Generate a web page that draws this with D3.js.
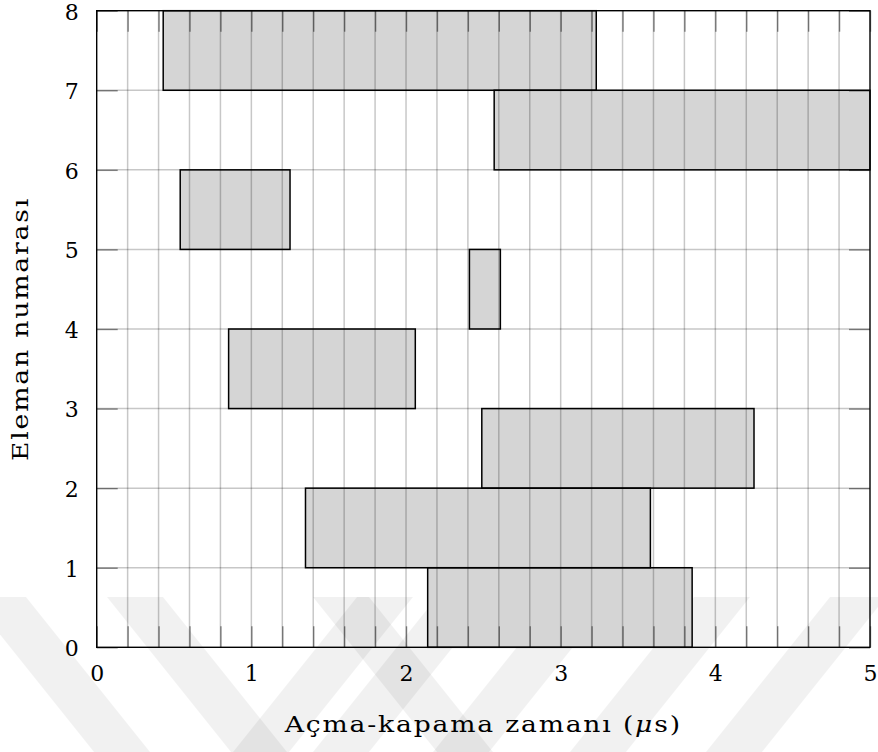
<!DOCTYPE html>
<html>
<head>
<meta charset="utf-8">
<script src="https://cdn.jsdelivr.net/npm/d3@7"></script>
<style>
  html, body { margin: 0; padding: 0; background: #fff; }
  svg { display: block; }
  text { font-family: "DejaVu Serif", "Liberation Serif", serif; fill: #000; }
</style>
</head>
<body>
<svg id="chart" width="878" height="752"></svg>
<script>
// Element numbers (each element occupies the band [n, n+1])
const elements = [0, 1, 2, 3, 4, 5, 6, 7];
// Switching interval of each element, in microseconds
const startTimes = [2.14, 1.35, 2.49, 0.853, 2.41, 0.54, 2.57, 0.43];
const endTimes   = [3.85, 3.58, 4.25, 2.06, 2.61, 1.25, 5.0, 3.23];
// Axis ticks
const xTickLabels = [0, 1, 2, 3, 4, 5];
const yTickLabels = [0, 1, 2, 3, 4, 5, 6, 7, 8];

const bars = elements.map((e, i) => ({ e, start: startTimes[i], end: endTimes[i] }));

const svg = d3.select("#chart");
const plotLeft = 96.7, plotRight = 870, plotTop = 10.7, plotBottom = 647.3;
const x = d3.scaleLinear().domain([0, 5]).range([plotLeft, plotRight]);
const y = d3.scaleLinear().domain([0, 8]).range([plotBottom, plotTop]);

const minorX = x.ticks(25);          // 0, 0.2, ..., 5
const tickLen = 21;

// Faint page watermark: diagonal bands along the bottom of the page
const wm = svg.append("g").attr("fill", "#000").attr("fill-opacity", 0.055);
const bandTop = 597, bandBottom = 752, slope = 0.8, bandW = 56;
[[107, 1], [313, 1], [-30, 1]].concat([[357, -1], [437, -1], [557, -1], [694, -1], [830, -1]])
  .forEach(([x0, dir]) => {
    const dy = bandBottom - bandTop;
    wm.append("polygon").attr("points", [
      [x0, bandTop], [x0 + bandW, bandTop],
      [x0 + bandW + dir * slope * dy, bandBottom], [x0 + dir * slope * dy, bandBottom]
    ].map(p => p.join(",")).join(" "));
  });

// Bar fills
svg.append("g").selectAll("rect").data(bars).join("rect")
  .attr("x", d => x(d.start))
  .attr("y", d => y(d.e + 1))
  .attr("width", d => x(d.end) - x(d.start))
  .attr("height", d => y(d.e) - y(d.e + 1))
  .attr("fill", "#d3d3d3")
  .attr("fill-opacity", 0.95);

// Grid
const grid = svg.append("g").attr("stroke", "#000").attr("stroke-opacity", 0.22).attr("stroke-width", 1.5);
grid.selectAll("line.v").data(minorX.filter(v => v > 0 && v < 5)).join("line")
  .attr("class", "v")
  .attr("x1", d => x(d)).attr("x2", d => x(d))
  .attr("y1", plotTop).attr("y2", plotBottom);
grid.selectAll("line.h").data(yTickLabels.filter(v => v > 0 && v < 8)).join("line")
  .attr("class", "h")
  .attr("x1", plotLeft).attr("x2", plotRight)
  .attr("y1", d => y(d)).attr("y2", d => y(d));

// Bar outlines
svg.append("g").selectAll("rect").data(bars).join("rect")
  .attr("x", d => x(d.start))
  .attr("y", d => y(d.e + 1))
  .attr("width", d => x(d.end) - x(d.start))
  .attr("height", d => y(d.e) - y(d.e + 1))
  .attr("fill", "none")
  .attr("stroke", "#000")
  .attr("stroke-width", 1.5);

// Axes (ticks point inward)
function styleAxis(g, labels) {
  g.select(".domain").remove();
  g.selectAll(".tick line").attr("stroke", "#000").attr("stroke-opacity", 0.45).attr("stroke-width", 1.4);
  g.selectAll(".tick text").style("font-size", "22px").style("font-family", "DejaVu Serif");
  if (!labels) g.selectAll(".tick text").remove();
}

svg.append("g").attr("transform", `translate(0,${plotBottom})`)
  .call(d3.axisBottom(x).tickValues(minorX).tickSize(-tickLen).tickPadding(18)
    .tickFormat(d => xTickLabels.includes(Math.round(d * 1000) / 1000) ? d3.format("d")(d) : ""))
  .call(g => styleAxis(g, true));

svg.append("g").attr("transform", `translate(0,${plotTop})`)
  .call(d3.axisTop(x).tickValues(minorX).tickSize(-tickLen).tickFormat(""))
  .call(g => styleAxis(g, false));

svg.append("g").attr("transform", `translate(${plotLeft},0)`)
  .call(d3.axisLeft(y).tickValues(yTickLabels).tickSize(-tickLen).tickPadding(18).tickFormat(d3.format("d")))
  .call(g => { styleAxis(g, true); g.selectAll(".tick text").attr("dy", "0.38em"); });

svg.append("g").attr("transform", `translate(${plotRight},0)`)
  .call(d3.axisRight(y).tickValues(yTickLabels).tickSize(-tickLen).tickFormat(""))
  .call(g => styleAxis(g, false));

// Frame
svg.append("rect")
  .attr("x", plotLeft).attr("y", plotTop)
  .attr("width", plotRight - plotLeft).attr("height", plotBottom - plotTop)
  .attr("fill", "none").attr("stroke", "#000").attr("stroke-width", 1.4);

// Axis titles
const xTitle = svg.append("text")
  .attr("x", (plotLeft + plotRight) / 2).attr("y", 731.5)
  .attr("text-anchor", "middle")
  .attr("textLength", 397).attr("lengthAdjust", "spacingAndGlyphs")
  .style("font-size", "22px")
  .style("letter-spacing", "1.5px");
xTitle.append("tspan").text("Açma-kapama zamanı (");
xTitle.append("tspan").style("font-style", "italic").text("μ");
xTitle.append("tspan").text("s)");

svg.append("text")
  .attr("transform", `translate(28,${(plotTop + plotBottom) / 2}) rotate(-90)`)
  .attr("text-anchor", "middle")
  .attr("textLength", 264).attr("lengthAdjust", "spacingAndGlyphs")
  .style("font-size", "22px")
  .style("letter-spacing", "1.5px")
  .text("Eleman numarası");
</script>
</body>
</html>
